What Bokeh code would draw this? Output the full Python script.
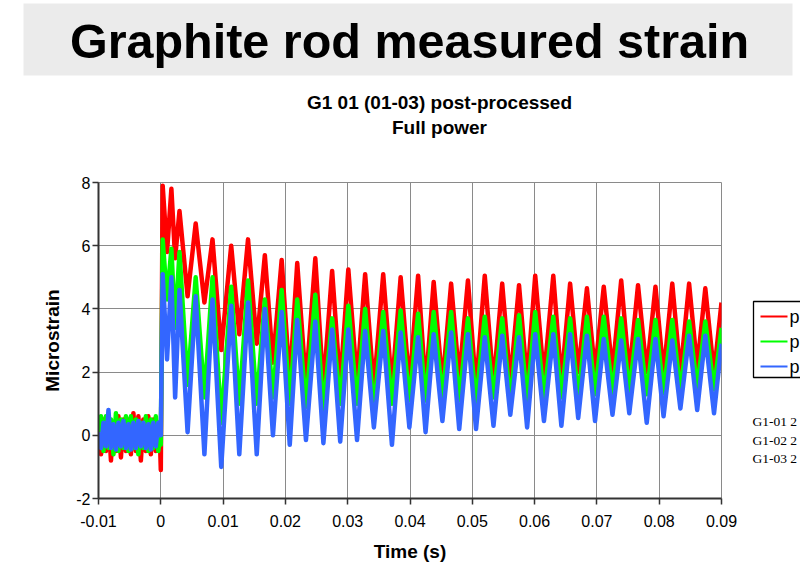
from bokeh.plotting import figure
from bokeh.layouts import column, row
from bokeh.models import Range1d, FixedTicker
from bokeh.core.properties import value
from bokeh.embed import file_html
from bokeh.resources import INLINE

# ---------------- data ----------------
x_ticks = [-0.01, 0, 0.01, 0.02, 0.03, 0.04, 0.05, 0.06, 0.07, 0.08, 0.09]
x_tick_labels = ["-0.01", "0", "0.01", "0.02", "0.03", "0.04", "0.05", "0.06", "0.07", "0.08", "0.09"]
y_ticks = [-2, 0, 2, 4, 6, 8]
y_tick_labels = ["-2", "0", "2", "4", "6", "8"]

# pre-trigger noise (s)
t_pre = [-0.0100, -0.0096, -0.0092, -0.0088, -0.0084, -0.0080, -0.0076, -0.0072, -0.0068,
         -0.0064, -0.0060, -0.0056, -0.0052, -0.0048, -0.0044, -0.0040, -0.0036, -0.0032,
         -0.0028, -0.0024, -0.0020, -0.0016, -0.0012, -0.0008, -0.0004, -0.0001]
r_pre = [0.3, -0.6, 0.5, -0.5, 0.6, -0.8, 0.4, -0.5, 0.6, -0.7, 0.5, -0.5, 0.5,
         -0.6, 0.7, -0.5, 0.6, -0.8, 0.5, -0.5, 0.6, -0.6, 0.5, -0.5, 0.4, -0.4]
g_pre = [-0.2, 0.6, -0.5, 0.6, -0.4, 0.5, -0.6, 0.7, -0.5, 0.5, -0.4, 0.6, -0.5,
         0.6, -0.4, 0.5, -0.6, 0.4, -0.4, 0.6, -0.5, 0.5, -0.4, 0.6, -0.5, 0.0]
b_pre = [0.1, -0.4, 0.4, -0.35, 0.8, -0.4, 0.35, -0.45, 0.4, -0.35, 0.45, -0.4, 0.35,
         -0.45, 0.4, -0.4, 0.45, -0.35, 0.4, -0.4, 0.35, -0.45, 0.4, -0.35, 0.4, 0.0]

# first cycles after power-on (s)
t_early = [0.0000, 0.0003, 0.0010, 0.0017, 0.0023, 0.0030, 0.0043, 0.0056, 0.0070, 0.0083,
           0.0097, 0.0113, 0.0126, 0.0140, 0.0154, 0.0167, 0.0180, 0.0194, 0.0207]
r_early = [-1.1, 7.9, 5.8, 7.8, 5.6, 7.1, 4.4, 6.7, 4.2, 6.2,
           2.7, 6.0, 3.2, 6.2, 2.9, 5.7, 2.3, 5.55, 1.7]
g_early = [-0.3, 6.2, 4.3, 5.9, 3.4, 5.8, 1.6, 5.0, 1.2, 5.0,
           0.4, 4.7, 1.0, 4.9, 1.0, 4.3, 1.2, 4.6, 1.0]
b_early = [0.0, 5.1, 2.4, 5.0, 1.2, 4.6, 0.1, 4.4, -0.6, 4.3,
           -1.0, 4.1, -0.6, 4.2, -0.6, 4.0, 0.0, 3.9, -0.3]

# steady oscillation: peak and trough times (s) and values (microstrain)
t_peak = [0.0219, 0.0248, 0.0275, 0.0301, 0.0328, 0.0357, 0.0385, 0.0413, 0.0438, 0.0466,
          0.0493, 0.0520, 0.0548, 0.0575, 0.0601, 0.0630, 0.0657, 0.0684, 0.0711, 0.0739,
          0.0766, 0.0794, 0.0821, 0.0848, 0.0874]
t_trough = [0.0233, 0.0261, 0.0288, 0.0315, 0.0342, 0.0371, 0.0399, 0.0425, 0.0452, 0.0479,
            0.0506, 0.0534, 0.0561, 0.0588, 0.0615, 0.0643, 0.0670, 0.0697, 0.0725, 0.0752,
            0.0780, 0.0807, 0.0834, 0.0861, 0.0888]
r_peak = [5.45, 5.6, 5.2, 5.25, 5.1, 5.1, 5.0, 5.05, 4.85, 4.8, 4.9, 5.05, 4.8, 4.75,
          5.05, 5.05, 4.8, 4.65, 4.7, 4.9, 4.75, 4.7, 4.8, 4.8, 4.65]
r_trough = [1.6, 1.5, 1.6, 1.7, 1.5, 1.5, 1.6, 1.5, 1.6, 1.8, 1.5, 1.6, 1.7, 1.7,
            1.8, 1.7, 2.0, 2.0, 2.0, 1.95, 2.0, 1.95, 1.95, 2.15, 1.95]
g_peak = [4.3, 4.45, 3.7, 4.1, 4.0, 3.9, 3.95, 3.85, 3.9, 3.9, 3.7, 3.75, 3.7, 3.8,
          3.9, 3.75, 3.7, 3.75, 3.75, 3.7, 3.65, 3.65, 3.65, 3.6, 3.6]
g_trough = [0.9, 0.8, 1.0, 1.0, 0.8, 1.0, 1.1, 1.1, 1.2, 1.1, 1.05, 1.2, 1.05, 1.1,
            1.2, 1.2, 1.2, 1.3, 1.35, 1.4, 1.3, 1.35, 1.4, 1.5, 1.45]
b_peak = [3.65, 3.6, 3.35, 3.35, 3.3, 3.3, 3.25, 3.1, 3.2, 3.25, 3.2, 3.1, 3.15, 3.1,
          3.2, 3.2, 3.2, 3.15, 3.05, 3.0, 3.05, 3.05, 3.0, 3.15, 3.15]
b_trough = [-0.15, -0.25, -0.2, -0.15, 0.25, -0.3, 0.25, 0.1, 0.45, 0.2, 0.2, 0.3, 0.65,
            0.25, 0.45, 0.3, 0.55, 0.45, 0.65, 0.7, 0.4, 0.6, 0.85, 0.8, 0.7]

t_end = 0.0900
r_end, g_end, b_end = 4.2, 3.4, 2.9

legend_labels = ["p", "p", "p"]
side_notes = ["G1-01 2", "G1-02 2", "G1-03 2"]


def assemble(pre, early, peaks, troughs, end):
    ys = list(pre) + list(early)
    for a, b in zip(peaks, troughs):
        ys += [a, b]
    ys.append(end)
    return ys


t_all = list(t_pre) + list(t_early)
for a, b in zip(t_peak, t_trough):
    t_all += [a, b]
t_all.append(t_end)

red = assemble(r_pre, r_early, r_peak, r_trough, r_end)
green = assemble(g_pre, g_early, g_peak, g_trough, g_end)
blue = assemble(b_pre, b_early, b_peak, b_trough, b_end)

RED, GREEN, BLUE = "#FF0000", "#00FF00", "#3366FF"
SANS = "Liberation Sans"

# ---------------- header (slide title + chart title), page pixel frame ----------------
h = figure(width=800, height=148, x_range=Range1d(0, 800), y_range=Range1d(148, 0),
           output_backend="svg", toolbar_location=None, min_border=0)
h.axis.visible = False
h.grid.visible = False
h.outline_line_color = None
h.quad(left=[23], right=[792], top=[3], bottom=[75], fill_color="#EBEBEB", line_color=None)
h.text(x=[409], y=[40], text=["Graphite rod measured strain"], text_align="center",
       text_baseline="middle", text_font=value(SANS), text_font_style="bold",
       text_font_size="48.5px", text_color="black")
h.text(x=[439, 439], y=[102, 127], text=["G1 01 (01-03) post-processed", "Full power"],
       text_align="center", text_baseline="middle", text_font=value(SANS),
       text_font_style="bold", text_font_size="19px", text_color="black")

# ---------------- main chart ----------------
p = figure(width=743, height=428, x_range=Range1d(-0.01, 0.09), y_range=Range1d(-2, 8),
           output_backend="svg", toolbar_location=None,
           min_border_left=98, min_border_right=22, min_border_top=34, min_border_bottom=78)
p.xaxis.ticker = FixedTicker(ticks=x_ticks)
p.xaxis.major_label_overrides = {t: lab for t, lab in zip(x_ticks, x_tick_labels)}
p.yaxis.ticker = FixedTicker(ticks=y_ticks)
p.yaxis.major_label_overrides = {t: lab for t, lab in zip(y_ticks, y_tick_labels)}
p.xaxis.axis_label = "Time (s)"
p.yaxis.axis_label = "Microstrain"
for ax in (p.xaxis[0], p.yaxis[0]):
    ax.axis_line_color = "#333333"
    ax.axis_line_width = 2
    ax.major_tick_line_color = "#333333"
    ax.major_tick_line_width = 1.5
    ax.major_tick_out = 6
    ax.major_tick_in = 0
    ax.minor_tick_line_color = None
    ax.major_label_text_font = SANS
    ax.major_label_text_font_size = "16px"
    ax.major_label_text_color = "black"
    ax.axis_label_text_font = SANS
    ax.axis_label_text_font_style = "bold"
    ax.axis_label_text_font_size = "19px"
    ax.axis_label_text_color = "black"
p.xaxis.major_label_standoff = 10
p.xaxis.axis_label_standoff = 11
p.yaxis.major_label_standoff = 2
p.yaxis.axis_label_standoff = 10
p.grid.grid_line_color = "#8a8a8a"
p.grid.grid_line_width = 1
p.outline_line_color = "#8a8a8a"

for ys, col in ((red, RED), (green, GREEN), (blue, BLUE)):
    p.line(t_all, ys, line_color=col, line_width=4.5, line_join="round")

# ---------------- side panel (cut-off legend and notes); frame aligns with main frame ----------------
s = figure(width=57, height=428, x_range=Range1d(743, 800), y_range=Range1d(498, 182),
           output_backend="svg", toolbar_location=None, min_border=0)
s.axis.visible = False
s.grid.visible = False
s.outline_line_color = None
s.quad(left=[753], right=[830], top=[301], bottom=[377], fill_color="white",
       line_color="black", line_width=1.3)
leg_y = [316, 341, 366]
s.segment(x0=[760, 760, 760], x1=[787, 787, 787], y0=leg_y, y1=leg_y,
          line_color=[RED, GREEN, BLUE], line_width=2)
s.text(x=[789, 789, 789], y=leg_y, text=legend_labels, text_baseline="middle",
       text_font=value(SANS), text_font_size="18px", text_color="black")
s.text(x=[752, 752, 752], y=[421, 439.5, 457.5], text=side_notes, text_baseline="middle",
       text_font=value("Liberation Serif"), text_font_size="13.5px", text_color="black")

layout = column(h, row(p, s))
open("out.html", "w").write(file_html(layout, INLINE))
